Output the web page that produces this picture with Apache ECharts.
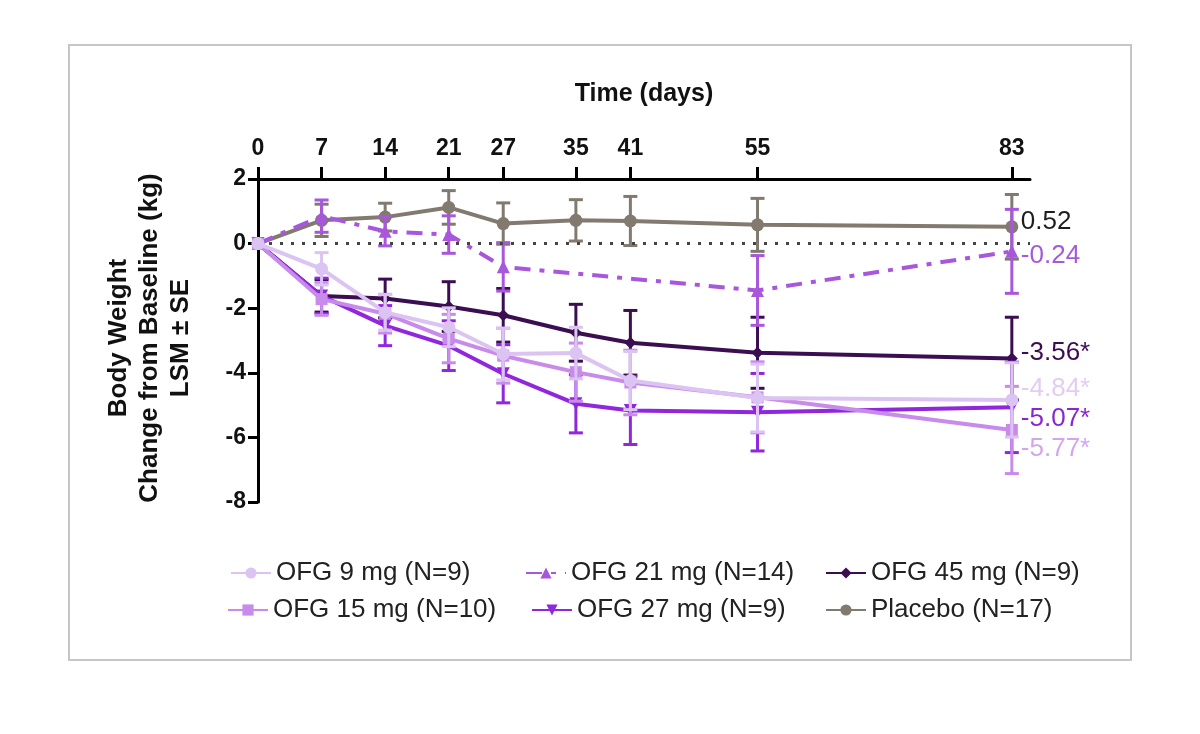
<!DOCTYPE html>
<html>
<head>
<meta charset="utf-8">
<script src="https://cdn.jsdelivr.net/npm/echarts@6/dist/echarts.min.js"></script>
<style>
  html, body { margin: 0; padding: 0; background: #fff; }
  #main { width: 1200px; height: 734px; }
</style>
</head>
<body>
<div id="main"></div>
<script>
// study days (x axis ticks)
const days = [0, 7, 14, 21, 27, 35, 41, 55, 83];
const days21 = [0, 7, 14, 21, 27, 55, 83];

// LSM change from baseline (kg)
const placeboMean = [0, 0.72, 0.82, 1.12, 0.62, 0.72, 0.70, 0.58, 0.52];
const placeboSE   = [0, 0.50, 0.43, 0.52, 0.64, 0.64, 0.76, 0.82, 1.00];
const ofg9Mean    = [0, -0.78, -2.13, -2.59, -3.42, -3.39, -4.24, -4.78, -4.84];
const ofg9SE      = [0, 0.50, 0.55, 0.60, 0.80, 0.80, 0.90, 1.05, 1.15];
const ofg15Mean   = [0, -1.72, -2.17, -2.94, -3.47, -3.98, -4.30, -4.76, -5.77];
const ofg15SE     = [0, 0.50, 0.60, 0.75, 0.85, 0.90, 1.00, 1.10, 1.35];
const ofg21Mean   = [0, 0.85, 0.38, 0.28, -0.72, -1.45, -0.24];
const ofg21SE     = [0, 0.50, 0.45, 0.58, 0.75, 1.08, 1.30];
const ofg27Mean   = [0, -1.62, -2.54, -3.16, -4.03, -4.96, -5.17, -5.22, -5.07];
const ofg27SE     = [0, 0.55, 0.62, 0.77, 0.90, 0.90, 1.05, 1.20, 1.40];
const ofg45Mean   = [0, -1.62, -1.70, -1.95, -2.22, -2.76, -3.07, -3.38, -3.56];
const ofg45SE     = [0, 0.50, 0.60, 0.77, 0.83, 0.88, 1.00, 1.10, 1.28];

const yTicks = [-8, -6, -4, -2, 0, 2];
const endTexts = { p: '0.52', d9: '-4.84*', d15: '-5.77*', d21: '-0.24', d27: '-5.07*', d45: '-3.56*' };

const FONT = '"Liberation Sans", Arial, sans-serif';

const groups = [
  { key: 'p',   name: 'Placebo (N=17)',   x: days,   m: placeboMean, se: placeboSE, color: '#82796f', label: '#1e1e1e', symbol: 'circle',   size: 13, dash: 'solid', dy: -5,  lg: [820, 592] },
  { key: 'd45', name: 'OFG 45 mg (N=9)',  x: days,   m: ofg45Mean,   se: ofg45SE,   color: '#3b0e52', label: '#3b0e52', symbol: 'diamond',  size: 12, dash: 'solid', dy: -6,  lg: [820, 555] },
  { key: 'd21', name: 'OFG 21 mg (N=14)', x: days21, m: ofg21Mean,   se: ofg21SE,   color: '#a857dc', label: '#a45bd9', symbol: 'triangle', size: 13, dash: [16, 9, 5, 9], dy: 4, lg: [520, 555] },
  { key: 'd27', name: 'OFG 27 mg (N=9)',  x: days,   m: ofg27Mean,   se: ofg27SE,   color: '#9027dd', label: '#8a25d0', symbol: 'triangle', rot: 180, size: 13, dash: 'solid', dy: 11, lg: [526, 592] },
  { key: 'd15', name: 'OFG 15 mg (N=10)', x: days,   m: ofg15Mean,   se: ofg15SE,   color: '#c88bea', label: '#d3a5ef', symbol: 'rect',     size: 12, dash: 'solid', dy: 19, lg: [222, 592] },
  { key: 'd9',  name: 'OFG 9 mg (N=9)',   x: days,   m: ofg9Mean,    se: ofg9SE,    color: '#dcc4f2', label: '#e2cdf3', symbol: 'circle',   size: 13, dash: 'solid', dy: -11, lg: [225, 555] }
];

function errorBars(color) {
  return function (params, api) {
    const x = api.value(0);
    const top = api.coord([x, api.value(2)]);
    const bot = api.coord([x, api.value(1)]);
    const w = 7;
    const style = { stroke: color, lineWidth: 3 };
    return {
      type: 'group',
      children: [
        { type: 'line', shape: { x1: top[0], y1: top[1], x2: bot[0], y2: bot[1] }, style },
        { type: 'line', shape: { x1: top[0] - w, y1: top[1], x2: top[0] + w, y2: top[1] }, style },
        { type: 'line', shape: { x1: bot[0] - w, y1: bot[1], x2: bot[0] + w, y2: bot[1] }, style }
      ]
    };
  };
}

const series = [];
groups.forEach((g, i) => {
  const pts = g.x.map((d, j) => [d, g.m[j]]);
  const errs = g.x.map((d, j) => [d, g.m[j] - g.se[j], g.m[j] + g.se[j]]).filter((e, j) => g.se[j] > 0);
  series.push({
    type: 'custom',
    name: g.name + ' SE',
    renderItem: errorBars(g.color),
    data: errs,
    encode: { x: 0, y: [1, 2] },
    z: 2 + i,
    silent: true
  });
  const s = {
    type: 'line',
    name: g.name,
    data: pts,
    symbol: g.symbol,
    symbolSize: g.size,
    symbolRotate: g.rot || 0,
    showAllSymbol: true,
    itemStyle: { color: g.color },
    lineStyle: { color: g.color, width: 4, type: g.dash },
    z: 2 + i,
    endLabel: {
      show: true,
      formatter: endTexts[g.key],
      color: g.label,
      fontSize: 26,
      fontFamily: FONT,
      distance: 9,
      offset: [0, g.dy]
    }
  };
  if (g.key === 'p') {
    s.markLine = {
      silent: true,
      symbol: 'none',
      label: { show: false },
      lineStyle: { color: '#444', type: [3, 8], width: 3 },
      data: [{ yAxis: 0 }]
    };
  }
  series.push(s);
});

const legends = groups.map(g => ({
  data: [g.name],
  left: g.lg[0],
  top: g.lg[1],
  itemWidth: 40,
  itemHeight: 14,
  selectedMode: false,
  textStyle: { fontSize: 26, color: '#222', fontFamily: FONT }
}));

const chart = echarts.init(document.getElementById('main'));
chart.setOption({
  animation: false,
  backgroundColor: '#fff',
  grid: { left: 258, right: 170, top: 179, bottom: 232 },
  legend: legends,
  xAxis: {
    type: 'value',
    position: 'top',
    min: 0,
    max: 85,
    name: 'Time (days)',
    nameLocation: 'middle',
    nameGap: 72,
    nameTextStyle: { fontSize: 25, fontWeight: 'bold', color: '#111', fontFamily: FONT },
    axisLine: { show: true, onZero: false, lineStyle: { color: '#000', width: 3 } },
    axisTick: { show: true, customValues: days, length: 12, lineStyle: { width: 3, color: '#000' } },
    axisLabel: { customValues: days, fontSize: 23, fontWeight: 'bold', color: '#111', fontFamily: FONT, margin: 19 },
    splitLine: { show: false }
  },
  yAxis: {
    type: 'value',
    min: -8,
    max: 2,
    interval: 2,
    axisLine: { show: true, onZero: false, lineStyle: { color: '#000', width: 3 } },
    axisTick: { show: true, customValues: yTicks, length: 10, lineStyle: { width: 3, color: '#000' } },
    axisLabel: { fontSize: 23, fontWeight: 'bold', color: '#111', fontFamily: FONT, margin: 12 },
    splitLine: { show: false }
  },
  graphic: [
    {
      type: 'rect',
      shape: { x: 69, y: 45, width: 1062, height: 615 },
      style: { fill: 'none', stroke: '#c6c6c6', lineWidth: 2 },
      silent: true
    },
    {
      type: 'text',
      x: 150,
      y: 338,
      rotation: Math.PI / 2,
      style: {
        text: 'Body Weight\nChange from Baseline (kg)\nLSM ± SE',
        font: 'bold 26px ' + FONT,
        fill: '#111',
        align: 'center',
        verticalAlign: 'middle',
        lineHeight: 31
      },
      silent: true
    }
  ],
  series
});
</script>
</body>
</html>
